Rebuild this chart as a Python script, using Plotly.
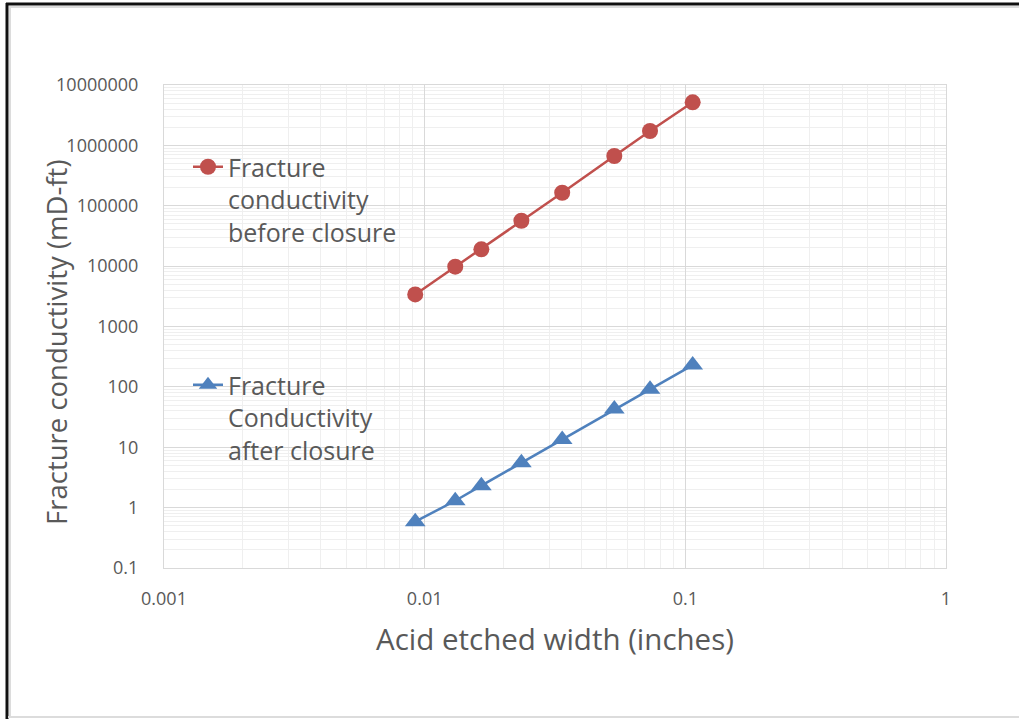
import plotly.graph_objects as go

# Acid etched width (inches)
width_in = [0.0092, 0.0131, 0.0165, 0.0235, 0.0337, 0.0534, 0.0732, 0.1067]
# Fracture conductivity (mD-ft)
cond_before = [3400, 9800, 19000, 56500, 164000, 667000, 1730000, 5170000]
cond_after = [0.585, 1.30, 2.31, 5.55, 13.5, 43.0, 91.0, 230.0]

name_before = "Fracture<br>conductivity<br>before closure"
name_after = "Fracture<br>Conductivity<br>after closure"

x_tickvals = [0.001, 0.01, 0.1, 1]
x_ticktext = ["0.001", "0.01", "0.1", "1"]
y_tickvals = [0.1, 1, 10, 100, 1000, 10000, 100000, 1000000, 10000000]
y_ticktext = ["0.1", "1", "10", "100", "1000", "10000", "100000", "1000000", "10000000"]

W, H = 1019, 719
L, R, T, B = 164, 73, 85, 151
PW, PH = W - L - R, H - T - B

RED = "#C0504D"
BLUE = "#4F81BD"
TXT = "#595959"
FONT = "Open Sans"


def px(xp):
    return (xp - L) / PW


def py(yp):
    return (H - B - yp) / PH


fig = go.Figure()
fig.add_trace(go.Scatter(
    x=width_in, y=cond_before, name=name_before, mode="lines+markers",
    line=dict(color=RED, width=2.5),
    marker=dict(symbol="circle", size=16, color=RED),
    legend="legend", showlegend=True,
))
fig.add_trace(go.Scatter(
    x=width_in, y=cond_after, name=name_after, mode="lines+markers",
    line=dict(color=BLUE, width=2.5),
    marker=dict(symbol="triangle-up", size=18, color=BLUE),
    legend="legend2", showlegend=True,
))

axis_common = dict(
    type="log",
    showgrid=True, gridcolor="#d9d9d9", gridwidth=1,
    showline=True, linecolor="#d9d9d9", linewidth=1, mirror=True,
    zeroline=False, ticks="",
    tickfont=dict(family=FONT, size=18, color=TXT),
    minor=dict(showgrid=True, gridcolor="#efefef", gridwidth=1, dtick="D1"),
)

fig.update_xaxes(
    **axis_common, range=[-3, 0], dtick=1,
    tickvals=x_tickvals, ticktext=x_ticktext, ticklabelstandoff=14,
)
fig.update_yaxes(
    **axis_common, range=[-1, 7], dtick=1,
    tickvals=y_tickvals, ticktext=y_ticktext, ticklabelstandoff=21,
)

legend_style = dict(
    font=dict(family=FONT, size=25, color=TXT),
    bgcolor="rgba(0,0,0,0)", borderwidth=0,
    xanchor="left", yanchor="top", valign="top",
    visible=True,
)

shapes = [
    # outer frame
    dict(type="line", xref="paper", yref="paper", x0=px(7), x1=px(7), y0=py(3), y1=py(720),
         line=dict(color="#111111", width=3)),
    dict(type="line", xref="paper", yref="paper", x0=px(6), x1=px(1020), y0=py(4), y1=py(4),
         line=dict(color="#111111", width=3)),
    dict(type="line", xref="paper", yref="paper", x0=px(10), x1=px(10), y0=py(6), y1=py(716),
         line=dict(color="#dcdcdc", width=2)),
    dict(type="line", xref="paper", yref="paper", x0=px(9), x1=px(1020), y0=py(7), y1=py(7),
         line=dict(color="#dcdcdc", width=2)),
    dict(type="line", xref="paper", yref="paper", x0=px(8), x1=px(1020), y0=py(717), y1=py(717),
         line=dict(color="#dcdcdc", width=2)),
]

fig.update_layout(
    width=W, height=H,
    margin=dict(l=L, r=R, t=T, b=B),
    paper_bgcolor="white", plot_bgcolor="white",
    font=dict(family=FONT, color=TXT),
    showlegend=True,
    legend=dict(**legend_style, x=px(188), y=py(144)),
    legend2=dict(**legend_style, x=px(188), y=py(362)),
    shapes=shapes,
    annotations=[
        dict(text="Acid etched width (inches)", xref="paper", yref="paper",
             x=0.5, y=py(638), xanchor="center", yanchor="middle", showarrow=False,
             font=dict(family=FONT, size=29.5, color=TXT)),
        dict(text="Fracture conductivity (mD-ft)", xref="paper", yref="paper",
             x=px(56), y=py(342), xanchor="center", yanchor="middle", showarrow=False,
             textangle=-90, font=dict(family=FONT, size=27.5, color=TXT)),
    ],
)

fig.write_html("out.html")
